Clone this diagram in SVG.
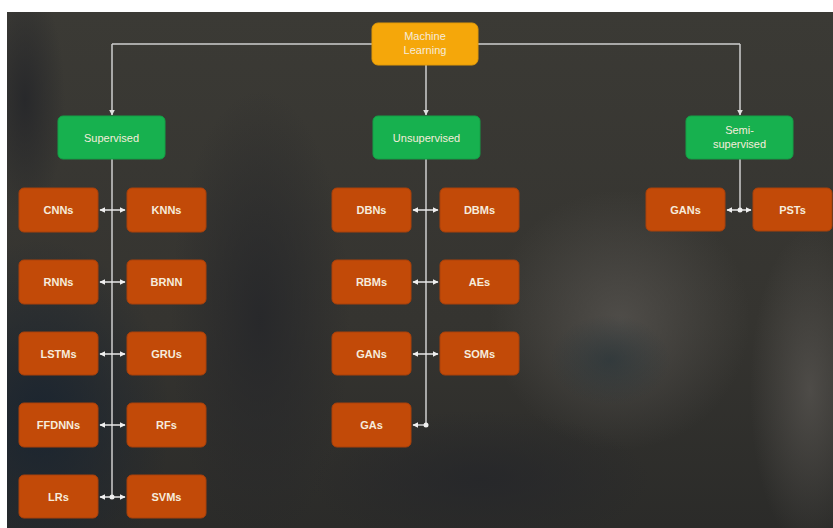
<svg xmlns="http://www.w3.org/2000/svg" width="833" height="528" viewBox="0 0 833 528">
<defs>
<style>
.t{font-family:"Liberation Sans",Arial,sans-serif;font-size:11px;fill:#f6ecdc;text-anchor:middle}
.b{font-weight:bold;font-size:11px}
.ml rect{fill:#f5a70a;stroke:#e29a08;stroke-width:1}
.cat rect{fill:#17b14f;stroke:#14a046;stroke-width:1}
.leaf rect{fill:#c24a08;stroke:#a9400a;stroke-width:1}
.ln{stroke:#cfcfcf;stroke-width:1.5;fill:none}
.ar{stroke:#e8e8e8;stroke-width:1.5;fill:none;marker-start:url(#ah);marker-end:url(#ah)}
</style>
<marker id="ah" viewBox="0 0 10 10" refX="9" refY="5" markerWidth="4" markerHeight="4" orient="auto-start-reverse"><path d="M0,0 L10,5 L0,10 z" fill="#f0f0f0"/></marker>
<marker id="dn" viewBox="0 0 10 10" refX="9" refY="5" markerWidth="4" markerHeight="4" orient="auto"><path d="M0,0 L10,5 L0,10 z" fill="#e0e0e0"/></marker>
<clipPath id="cp"><rect x="7" y="12" width="826" height="516"/></clipPath>
<linearGradient id="bg" x1="0" y1="0" x2="0" y2="1"><stop offset="0" stop-color="#3b3a35"/><stop offset="0.6" stop-color="#353430"/><stop offset="1" stop-color="#2b2b29"/></linearGradient>
<radialGradient id="gBlue"><stop offset="0" stop-color="#1b2530" stop-opacity="1"/><stop offset="1" stop-color="#1b2530" stop-opacity="0"/></radialGradient>
<radialGradient id="gDark"><stop offset="0" stop-color="#26272a" stop-opacity="0.9"/><stop offset="1" stop-color="#26272a" stop-opacity="0"/></radialGradient>
<radialGradient id="gLight"><stop offset="0" stop-color="#5a5753" stop-opacity="0.7"/><stop offset="1" stop-color="#5a5753" stop-opacity="0"/></radialGradient>
<radialGradient id="gTeal"><stop offset="0" stop-color="#26343a" stop-opacity="0.6"/><stop offset="1" stop-color="#26343a" stop-opacity="0"/></radialGradient>
</defs>
<rect x="0" y="0" width="833" height="528" fill="#ffffff"/>
<g clip-path="url(#cp)">
<rect x="7" y="12" width="826" height="516" fill="url(#bg)"/>
<ellipse cx="40" cy="420" rx="130" ry="180" fill="url(#gBlue)"/>
<ellipse cx="260" cy="320" rx="90" ry="230" fill="url(#gDark)"/>
<ellipse cx="620" cy="320" rx="130" ry="130" fill="url(#gLight)"/>
<ellipse cx="810" cy="390" rx="60" ry="160" fill="url(#gLight)"/>
<ellipse cx="610" cy="360" rx="60" ry="45" fill="url(#gTeal)"/>
<ellipse cx="480" cy="480" rx="170" ry="70" fill="url(#gDark)"/>
<ellipse cx="25" cy="100" rx="40" ry="120" fill="url(#gDark)"/>
</g>
<g id="connectors">
<path class="ln" d="M112,44 H740"/>
<path class="ln" d="M112,44 V115" marker-end="url(#dn)"/>
<path class="ln" d="M426,65 V115" marker-end="url(#dn)"/>
<path class="ln" d="M740,44 V115" marker-end="url(#dn)"/>
<path class="ln" d="M112,159 V498"/>
<path class="ln" d="M426,159 V425"/>
<path class="ln" d="M740,159 V210"/>
<path class="ar" d="M100,210 H125"/>
<path class="ar" d="M100,282 H125"/>
<path class="ar" d="M100,354 H125"/>
<path class="ar" d="M100,425 H125"/>
<path class="ar" d="M100,497 H125"/>
<circle cx="112" cy="497" r="2.5" fill="#f0f0f0"/>
<path class="ar" d="M413,210 H438"/>
<path class="ar" d="M413,282 H438"/>
<path class="ar" d="M413,354 H438"/>
<path class="ln" d="M426,425 H413" marker-end="url(#ah)"/>
<circle cx="426" cy="425" r="2.5" fill="#f0f0f0"/>
<path class="ar" d="M727,210 H751"/>
<circle cx="740" cy="210" r="2.5" fill="#f0f0f0"/>
</g>
<g id="machine-learning" class="ml"><rect x="372" y="23" width="106" height="42" rx="6"/><text class="t" x="425" y="40">Machine</text><text class="t" x="425" y="54">Learning</text></g>
<g id="supervised" class="cat"><rect x="58" y="116" width="107" height="43" rx="5"/><text class="t" x="111.5" y="141.5">Supervised</text></g>
<g id="unsupervised" class="cat"><rect x="373" y="116" width="107" height="43" rx="5"/><text class="t" x="426.5" y="141.5">Unsupervised</text></g>
<g id="semi-supervised" class="cat"><rect x="686" y="116" width="107" height="43" rx="5"/><text class="t" x="739.5" y="134">Semi-</text><text class="t" x="739.5" y="148">supervised</text></g>
<g id="cnns" class="leaf"><rect x="19" y="188" width="79" height="44" rx="5"/><text class="t b" x="58.5" y="214">CNNs</text></g>
<g id="knns" class="leaf"><rect x="127" y="188" width="79" height="44" rx="5"/><text class="t b" x="166.5" y="214">KNNs</text></g>
<g id="rnns" class="leaf"><rect x="19" y="260" width="79" height="44" rx="5"/><text class="t b" x="58.5" y="286">RNNs</text></g>
<g id="brnn" class="leaf"><rect x="127" y="260" width="79" height="44" rx="5"/><text class="t b" x="166.5" y="286">BRNN</text></g>
<g id="lstms" class="leaf"><rect x="19" y="332" width="79" height="43" rx="5"/><text class="t b" x="58.5" y="358">LSTMs</text></g>
<g id="grus" class="leaf"><rect x="127" y="332" width="79" height="43" rx="5"/><text class="t b" x="166.5" y="358">GRUs</text></g>
<g id="ffdnns" class="leaf"><rect x="19" y="403" width="79" height="44" rx="5"/><text class="t b" x="58.5" y="429">FFDNNs</text></g>
<g id="rfs" class="leaf"><rect x="127" y="403" width="79" height="44" rx="5"/><text class="t b" x="166.5" y="429">RFs</text></g>
<g id="lrs" class="leaf"><rect x="19" y="475" width="79" height="43" rx="5"/><text class="t b" x="58.5" y="501">LRs</text></g>
<g id="svms" class="leaf"><rect x="127" y="475" width="79" height="43" rx="5"/><text class="t b" x="166.5" y="501">SVMs</text></g>
<g id="dbns" class="leaf"><rect x="332" y="188" width="79" height="44" rx="5"/><text class="t b" x="371.5" y="214">DBNs</text></g>
<g id="dbms" class="leaf"><rect x="440" y="188" width="79" height="44" rx="5"/><text class="t b" x="479.5" y="214">DBMs</text></g>
<g id="rbms" class="leaf"><rect x="332" y="260" width="79" height="44" rx="5"/><text class="t b" x="371.5" y="286">RBMs</text></g>
<g id="aes" class="leaf"><rect x="440" y="260" width="79" height="44" rx="5"/><text class="t b" x="479.5" y="286">AEs</text></g>
<g id="gans-unsup" class="leaf"><rect x="332" y="332" width="79" height="43" rx="5"/><text class="t b" x="371.5" y="358">GANs</text></g>
<g id="soms" class="leaf"><rect x="440" y="332" width="79" height="43" rx="5"/><text class="t b" x="479.5" y="358">SOMs</text></g>
<g id="gas" class="leaf"><rect x="332" y="403" width="79" height="44" rx="5"/><text class="t b" x="371.5" y="429">GAs</text></g>
<g id="gans-semi" class="leaf"><rect x="646" y="188" width="79" height="43" rx="5"/><text class="t b" x="685.5" y="214">GANs</text></g>
<g id="psts" class="leaf"><rect x="753" y="188" width="79" height="43" rx="5"/><text class="t b" x="792.5" y="214">PSTs</text></g>
</svg>
